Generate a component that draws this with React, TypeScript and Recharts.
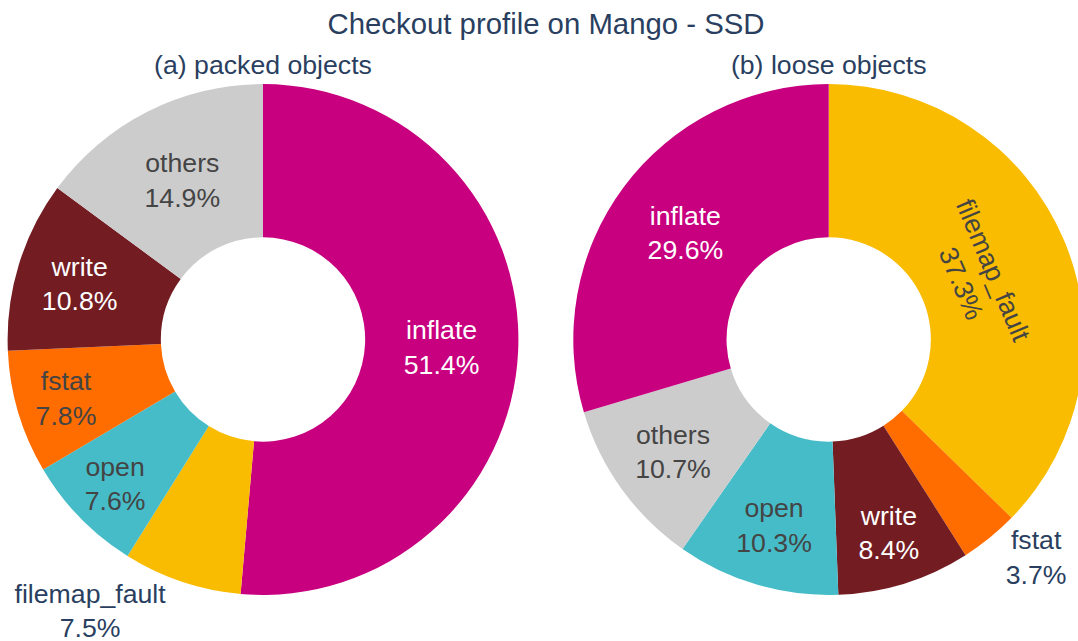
import React from 'react';
import { PieChart, Pie, Cell } from 'recharts';

// values (percent of checkout time)
const packedNames = ['inflate', 'filemap_fault', 'open', 'fstat', 'write', 'others'];
const packedShares = [51.4, 7.5, 7.6, 7.8, 10.8, 14.9];
const looseNames = ['filemap_fault', 'fstat', 'write', 'open', 'others', 'inflate'];
const looseShares = [37.3, 3.7, 8.4, 10.3, 10.7, 29.6];
const subplotTitles = ['(a) packed objects', '(b) loose objects'];
const chartTitle = 'Checkout profile on Mango - SSD';

const SLICE_COLORS: Record<string, string> = {
  inflate: '#c8007f',
  filemap_fault: '#f9bc00',
  open: '#46bcc8',
  fstat: '#ff6d00',
  write: '#731c22',
  others: '#cccccc',
};

const WIDTH = 1078;
const HEIGHT = 641;
const FONT = '"Liberation Sans", Arial, Helvetica, sans-serif';
const TITLE_COLOR = '#2a3f5f';
const FS = 26.67;
const TITLE_FS = 29.33;
const LINE_SPACING = 1.3;
const ASCENT = 0.905;
const DESCENT = 0.212;
const TEXTPAD = 3;

const OUTER_R = 255.4;
const HOLE = 0.4;
const CY = 339.5;
const CENTERS = [263, 828.7];

let measureCtx: CanvasRenderingContext2D | null = null;
function textWidth(s: string): number {
  if (!measureCtx) measureCtx = document.createElement('canvas').getContext('2d');
  if (!measureCtx) return s.length * FS * 0.55;
  measureCtx.font = `${FS}px ${FONT}`;
  return measureCtx.measureText(s).width;
}

function isDark(hex: string): boolean {
  const n = parseInt(hex.slice(1), 16);
  const r = (n >> 16) & 255, g = (n >> 8) & 255, b = n & 255;
  return (r * 299 + g * 587 + b * 114) / 1000 < 128;
}

/* Plotly-style text placement: horizontal if it fits, else radial/tangential,
   else pushed outside the slice. Angles are clockwise from 12 o'clock. */
function makeLabel(names: string[], shares: number[], cx: number) {
  const total = shares.reduce((s, v) => s + v, 0);
  return (props: any) => {
    const i: number = props.index;
    const before = shares.slice(0, i).reduce((s, v) => s + v, 0);
    const a0 = (before / total) * Math.PI * 2;
    const a1 = ((before + shares[i]) / total) * Math.PI * 2;
    const half = (a1 - a0) / 2;
    const mid = (a0 + a1) / 2;
    const px = OUTER_R * Math.sin(mid);
    const py = -OUTER_R * Math.cos(mid);

    const lines = [names[i], `${shares[i].toFixed(1)}%`];
    const w = Math.max(...lines.map(textWidth));
    const h = (lines.length - 1) * LINE_SPACING * FS + (ASCENT + DESCENT) * FS;
    const ring = 1 - HOLE;

    const rIns = Math.min(1 / (1 + 1 / Math.sin(half)), ring / 2);
    let best = { scale: (rIns * OUTER_R * 2) / Math.hypot(w, h), rCenter: 1 - rIns, rotate: 0 };

    if (best.scale < 1) {
      const rr = OUTER_R - 2 * TEXTPAD;
      const maxHalf = (a: number) => {
        const q = a + 1 / (2 * Math.tan(half));
        return rr * Math.min(1 / (Math.sqrt(q * q + 0.5) + q), ring / (Math.sqrt(a * a + ring / 2) + a));
      };
      const rot = (t: number) => ((180 / Math.PI) * t + 720) % 180 - 90;
      const aR = w / h;
      const sR = maxHalf(aR);
      const radial = { scale: (sR * 2) / h, rCenter: Math.cos(sR / rr) - aR * (sR / rr), rotate: rot(mid) };
      const aT = h / w;
      const sT = maxHalf(aT);
      const tang = { scale: (sT * 2) / w, rCenter: Math.cos(sT / rr) - aT * (sT / rr), rotate: rot(mid + Math.PI / 2) };
      best = radial.scale >= tang.scale ? radial : tang;
    }

    let tx: number, ty: number, rotate = 0, color: string;
    if (best.scale >= 1) {
      tx = cx + px * best.rCenter;
      ty = CY + py * best.rCenter;
      rotate = best.rotate;
      color = isDark(SLICE_COLORS[names[i]]) ? '#ffffff' : '#444444';
    } else {
      let dx = w / 2;
      let dy = h / 2;
      if (px < 0) dx *= -1;
      if (py < 0) dy *= -1;
      tx = cx + px + dx + (Math.abs(dy) * (dx > 0 ? 1 : -1)) / 2;
      ty = CY + py + dy / (1 + (px * px) / (py * py));
      color = TITLE_COLOR;
    }

    const base = ty - h / 2 + ASCENT * FS;
    return (
      <g key={`lbl-${i}`} transform={`rotate(${rotate} ${tx} ${ty})`}>
        <text x={tx} y={base} textAnchor="middle" fill={color} fontFamily={FONT} fontSize={FS}>
          {lines.map((ln, k) => (
            <tspan key={k} x={tx} y={base + k * LINE_SPACING * FS}>{ln}</tspan>
          ))}
        </text>
      </g>
    );
  };
}

const packedData = packedNames.map((name, i) => ({ name, value: packedShares[i] }));
const looseData = looseNames.map((name, i) => ({ name, value: looseShares[i] }));

export default function App() {
  return (
    <div style={{ position: 'absolute', left: 0, top: 0, width: WIDTH, height: HEIGHT, background: '#fff' }}>
      <PieChart width={WIDTH} height={HEIGHT} margin={{ top: 0, right: 0, bottom: 0, left: 0 }}>
        <Pie
          data={packedData}
          dataKey="value"
          nameKey="name"
          cx={CENTERS[0]}
          cy={CY}
          outerRadius={OUTER_R}
          innerRadius={OUTER_R * HOLE}
          startAngle={90}
          endAngle={-270}
          stroke="none"
          isAnimationActive={false}
          labelLine={false}
          label={makeLabel(packedNames, packedShares, CENTERS[0])}
        >
          {packedData.map((d, i) => (
            <Cell key={i} fill={SLICE_COLORS[d.name]} />
          ))}
        </Pie>
        <Pie
          data={looseData}
          dataKey="value"
          nameKey="name"
          cx={CENTERS[1]}
          cy={CY}
          outerRadius={OUTER_R}
          innerRadius={OUTER_R * HOLE}
          startAngle={90}
          endAngle={-270}
          stroke="none"
          isAnimationActive={false}
          labelLine={false}
          label={makeLabel(looseNames, looseShares, CENTERS[1])}
        >
          {looseData.map((d, i) => (
            <Cell key={i} fill={SLICE_COLORS[d.name]} />
          ))}
        </Pie>
      </PieChart>
      <svg
        width={WIDTH}
        height={HEIGHT}
        style={{ position: 'absolute', left: 0, top: 0, pointerEvents: 'none' }}
      >
        <text x={546} y={34} textAnchor="middle" fill={TITLE_COLOR} fontFamily={FONT} fontSize={TITLE_FS}>
          {chartTitle}
        </text>
        {subplotTitles.map((t, i) => (
          <text key={t} x={CENTERS[i]} y={74} textAnchor="middle" fill={TITLE_COLOR} fontFamily={FONT} fontSize={FS}>
            {t}
          </text>
        ))}
      </svg>
    </div>
  );
}
